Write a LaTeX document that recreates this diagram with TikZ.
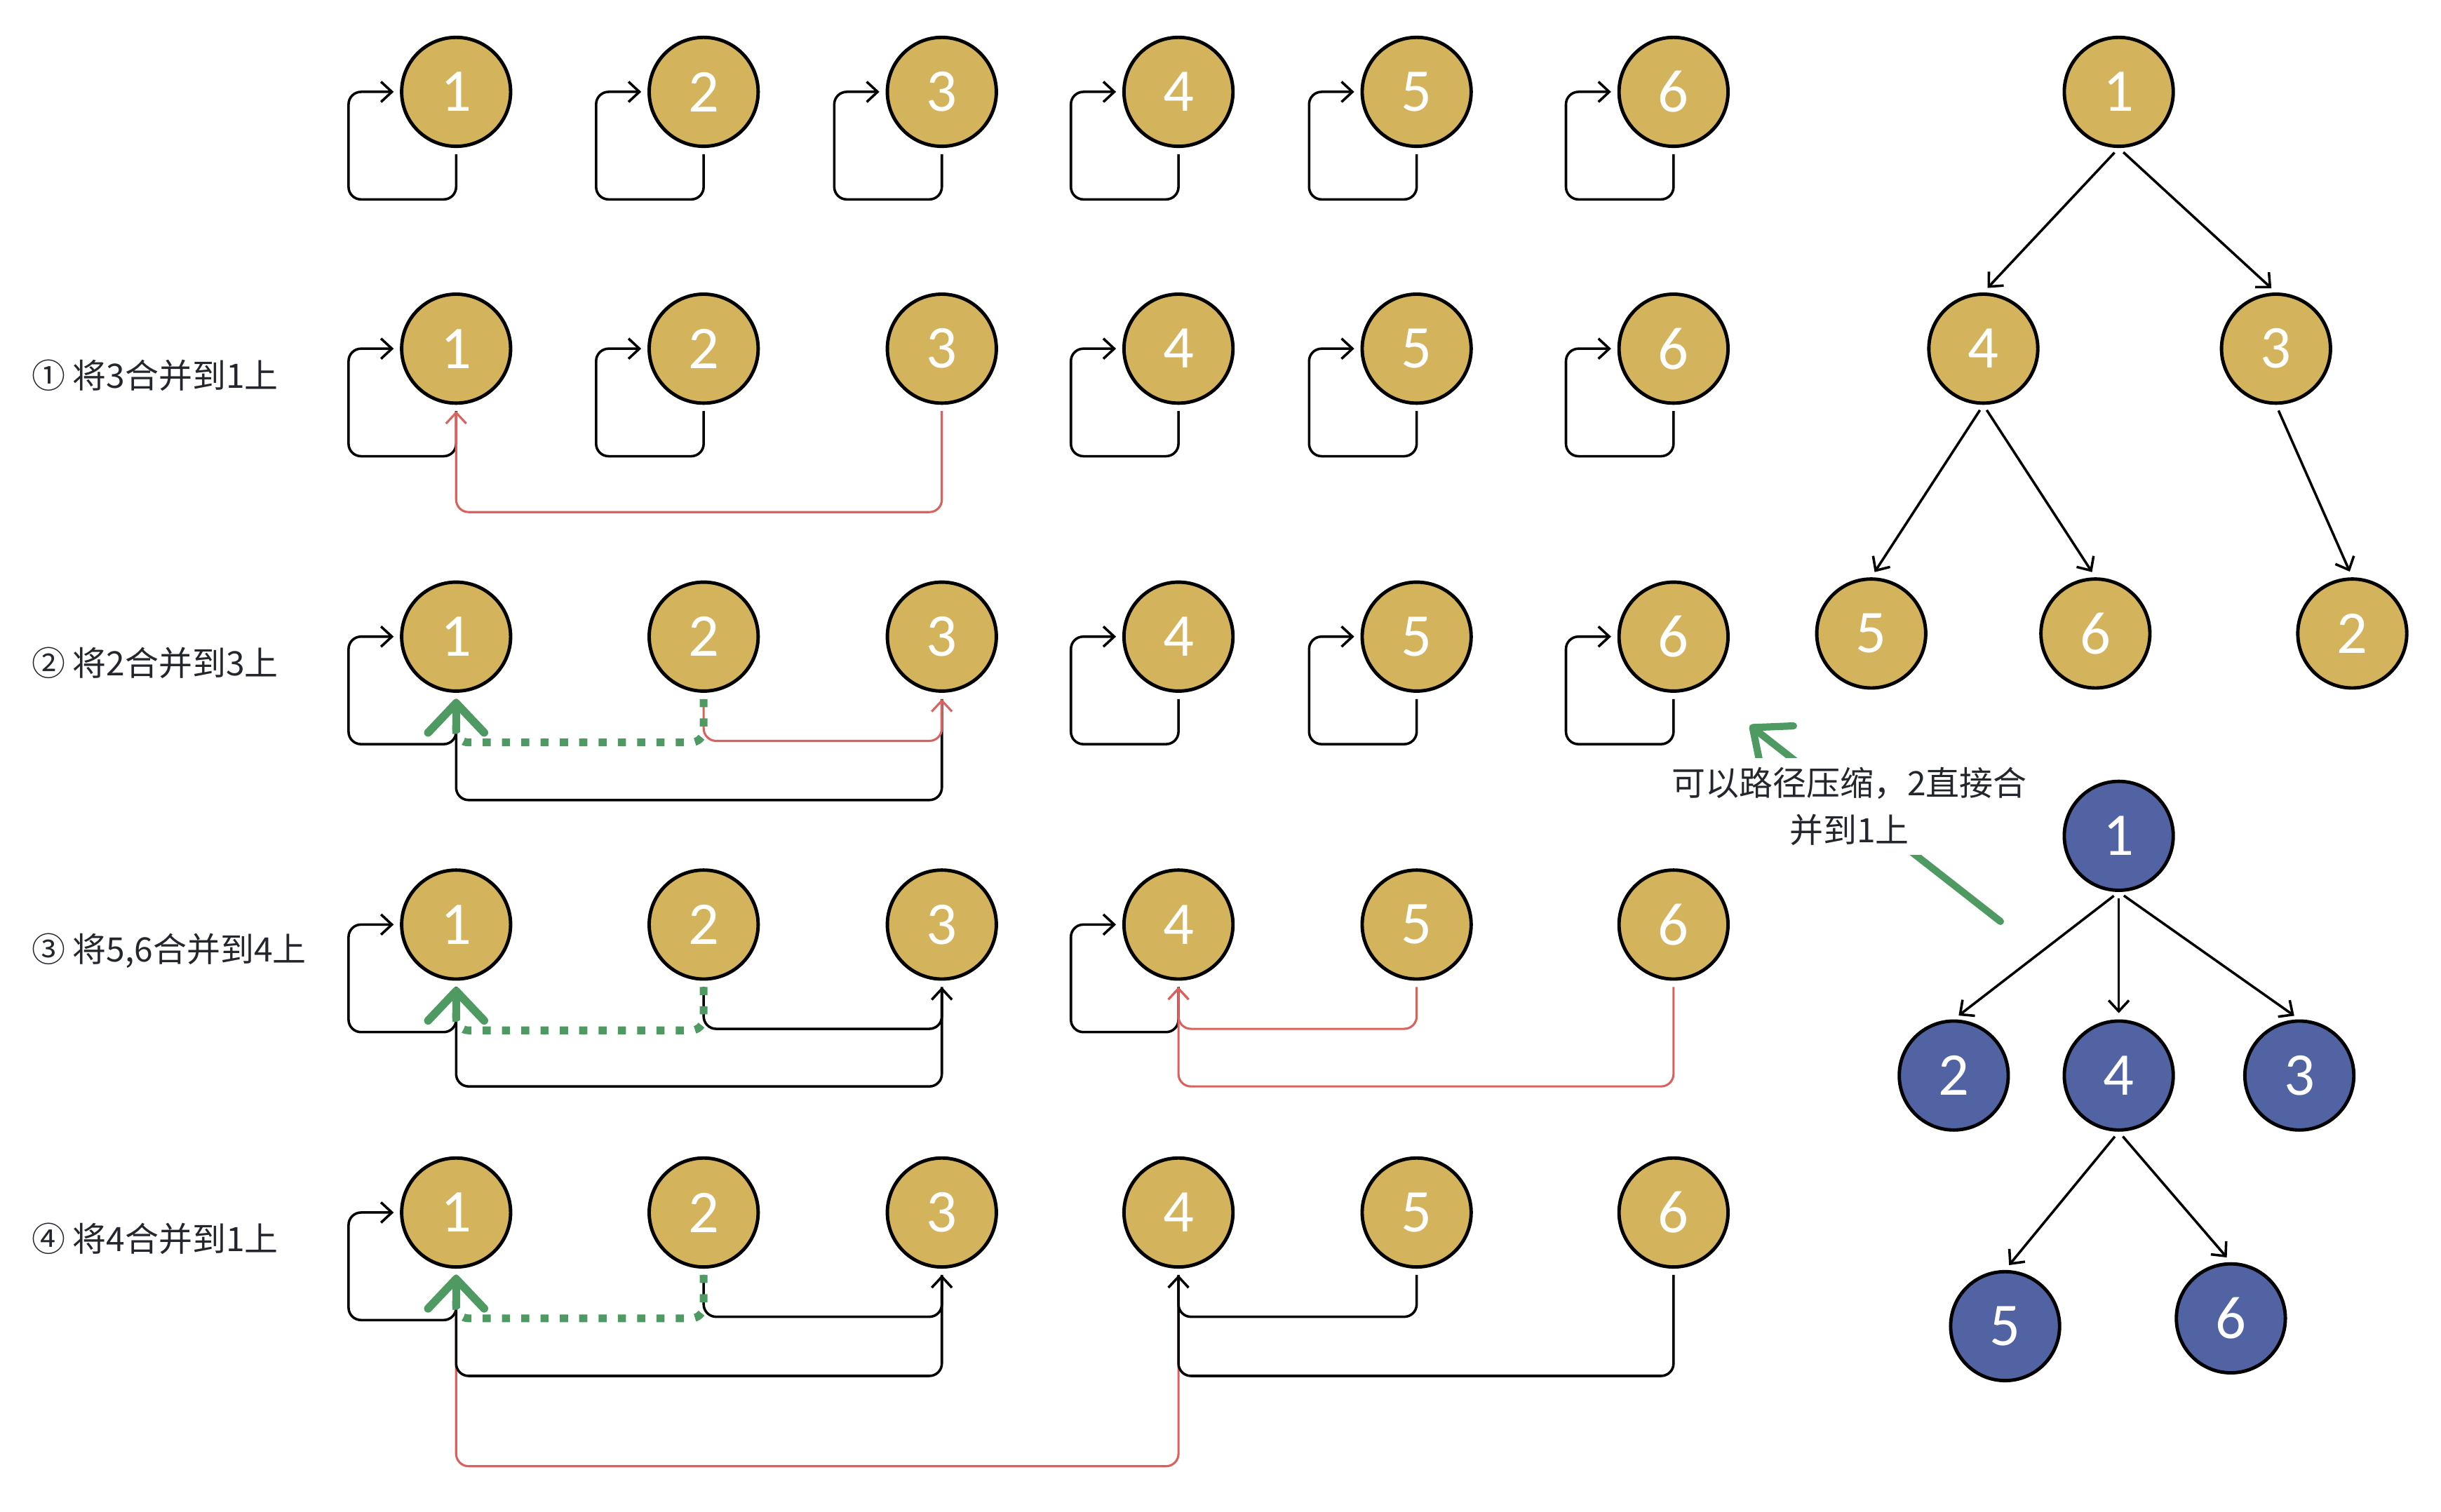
\documentclass[tikz,border=0pt]{standalone}
\usepackage{fontspec}
\newfontfamily\cjk{Noto Sans CJK SC}
\newfontfamily\numfont{Carlito}
\usetikzlibrary{arrows.meta}
\definecolor{gold}{HTML}{D4B35D}
\definecolor{navy}{HTML}{5263A3}
\definecolor{grn}{HTML}{4F9963}
\definecolor{redl}{HTML}{D9625E}
\definecolor{txt}{HTML}{24262D}
\newcommand\selfloop[1]{\draw[ln,arr] ([yshift=-2pt]#1.south) -- ++(0,29) -| ([xshift=-16.5pt]#1.west) -- ([xshift=-2pt]#1.west);}
\begin{document}
\begin{tikzpicture}[x=0.5pt,y=-0.5pt,
  nd/.style={circle, draw=black, line width=1.1pt, fill=gold, minimum size=35pt, inner sep=0pt, text=white, font=\numfont\fontsize{19.5}{19.5}\selectfont},
  bnd/.style={nd, fill=navy},
  ln/.style={draw=black, line width=0.8pt, rounded corners=4pt},
  rl/.style={draw=redl, line width=0.7pt, rounded corners=4pt},
  arr/.style={-{Straight Barb[length=3.5pt,width=6.5pt]}},
  gl/.style={draw=grn, line width=2.5pt, rounded corners=4pt, dash pattern=on 2.6pt off 3.6pt},
  garr/.style={draw=grn, line width=2.6pt, line cap=round, -{Straight Barb[round,length=9.5pt,width=18pt]}},
  lbl/.style={anchor=west, text=txt, font=\cjk\fontsize{10.8}{13}\selectfont, inner sep=0pt},
  tedge/.style={line width=0.8pt, arr, shorten <=2pt, shorten >=2pt}
]
\useasboundingbox (0,0) rectangle (1568,971);

% ---------- rows ----------
\foreach \r/\y in {a/59,b/224,c/409,d/594,e/779}{
  \foreach \i/\x in {1/293,2/452,3/605,4/757,5/910,6/1075}{
    \node[nd] (\r\i) at (\x,\y) {\i};
  }
}

% labels
\node[lbl] (l1) at (20,241) {① 将3合并到1上};
\node[lbl] (l2) at (20,426) {② 将2合并到3上};
\node[lbl] (l3) at (20,611) {③ 将5,6合并到4上};
\node[lbl] (l4) at (20,796) {④ 将4合并到1上};

% row a
\foreach \i in {1,...,6}{\selfloop{a\i}}

% row b
\foreach \i in {1,2,4,5,6}{\selfloop{b\i}}
\draw[rl,arr] ([yshift=-2pt]b3.south) |- (b1.south |- 0,329) -- ([yshift=-2pt]b1.south);

% row c
\foreach \i in {1,4,5,6}{\selfloop{c\i}}
\draw[ln] ([yshift=-2pt]c3.south) |- (c1.south |- 0,514) -- ([yshift=-2pt]c1.south);
\draw[rl,arr] ([yshift=-2pt]c2.south) |- (c3.south |- 0,476) -- ([yshift=-2pt]c3.south);
\draw[gl] ([yshift=-2pt]c2.south) |- (c1.south |- 0,477) -- ([yshift=-2pt]c1.south);
\draw[garr] (c1.south |- 0,469) -- ([yshift=-2pt]c1.south);

% row d
\foreach \i in {1,4}{\selfloop{d\i}}
\draw[ln] ([yshift=-2pt]d3.south) |- (d1.south |- 0,698) -- ([yshift=-2pt]d1.south);
\draw[ln,arr] ([yshift=-2pt]d2.south) |- (d3.south |- 0,661) -- ([yshift=-2pt]d3.south);
\draw[rl,arr] ([yshift=-2pt]d5.south) |- (d4.south |- 0,661) -- ([yshift=-2pt]d4.south);
\draw[rl,arr] ([yshift=-2pt]d6.south) |- (d4.south |- 0,698) -- ([yshift=-2pt]d4.south);
\draw[gl] ([yshift=-2pt]d2.south) |- (d1.south |- 0,662) -- ([yshift=-2pt]d1.south);
\draw[garr] (d1.south |- 0,654) -- ([yshift=-2pt]d1.south);

% row e
\selfloop{e1}
\draw[rl,arr] ([yshift=-2pt]e4.south) |- (e1.south |- 0,942) -- ([yshift=-2pt]e1.south);
\draw[ln] ([yshift=-2pt]e3.south) |- (e1.south |- 0,884) -- ([yshift=-2pt]e1.south);
\draw[ln,arr] ([yshift=-2pt]e2.south) |- (e3.south |- 0,846) -- ([yshift=-2pt]e3.south);
\draw[ln,arr] ([yshift=-2pt]e5.south) |- (e4.south |- 0,846) -- ([yshift=-2pt]e4.south);
\draw[ln] ([yshift=-2pt]e6.south) |- (e4.south |- 0,884) -- ([yshift=-2pt]e4.south);
\draw[gl] ([yshift=-2pt]e2.south) |- (e1.south |- 0,847) -- ([yshift=-2pt]e1.south);
\draw[garr] (e1.south |- 0,839) -- ([yshift=-2pt]e1.south);

% ---------- gold tree ----------
\node[nd] (t1) at (1361,59) {1};
\node[nd] (t4) at (1274,224) {4};
\node[nd] (t3) at (1462,224) {3};
\node[nd] (t5) at (1202,407) {5};
\node[nd] (t6) at (1346,407) {6};
\node[nd] (t2) at (1511,407) {2};
\draw[tedge] (t1.south) -- (t4.north);
\draw[tedge] (t1.south) -- (t3.north);
\draw[tedge] (t4.south) -- (t5.north);
\draw[tedge] (t4.south) -- (t6.north);
\draw[tedge] (t3.south) -- (t2.north);

% ---------- blue tree ----------
\node[bnd] (u1) at (1361,537) {1};
\node[bnd] (u2) at (1255,691) {2};
\node[bnd] (u4) at (1361,691) {4};
\node[bnd] (u3) at (1477,691) {3};
\node[bnd] (u5) at (1288,852) {5};
\node[bnd] (u6) at (1433,847) {6};
\draw[tedge] (u1.south) -- (u2.north);
\draw[tedge] (u1.south) -- (u4.north);
\draw[tedge] (u1.south) -- (u3.north);
\draw[tedge] (u4.south) -- (u5.north);
\draw[tedge] (u4.south) -- (u6.north);

% ---------- annotation ----------
\coordinate (ga) at (1285,592);
\coordinate (gb) at (1124,466);
\draw[draw=grn, line width=2.3pt, line cap=round, -{Straight Barb[round,length=10pt,width=17pt]}] (ga) -- (gb);
\node[fill=white, inner xsep=1pt, inner ysep=3pt, align=center, text=txt, font=\cjk\fontsize{10.8}{15}\selectfont] (note) at (1188,518) {可以路径压缩，2直接合\\并到1上};
\end{tikzpicture}
\end{document}
